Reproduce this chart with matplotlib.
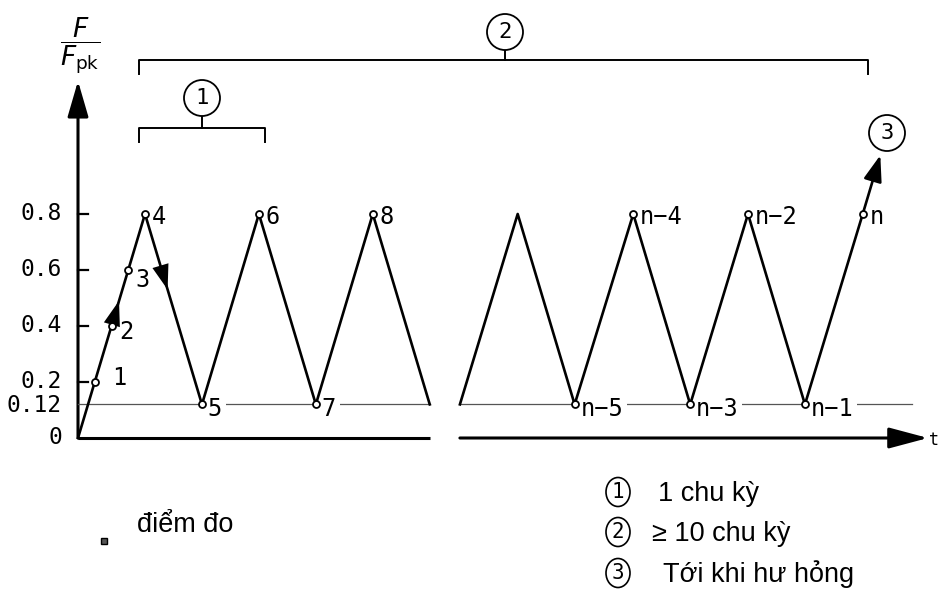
import matplotlib
matplotlib.use("Agg")
import matplotlib.pyplot as plt
from matplotlib.patches import FancyArrowPatch, Ellipse

# load ratio F/Fpk against time, first block of cycles
seg1_t = [0, 0.2, 0.4, 0.6, 0.8, 1.48, 2.16, 2.84, 3.52, 4.2]
seg1_f = [0, 0.2, 0.4, 0.6, 0.8, 0.12, 0.8, 0.12, 0.8, 0.12]
seg1_labels = ["", "1", "2", "3", "4", "5", "6", "7", "8", ""]

# last block of cycles up to failure
seg2_t = [4.56, 5.25, 5.93, 6.63, 7.31, 8.0, 8.68, 9.37]
seg2_f = [0.12, 0.8, 0.12, 0.8, 0.12, 0.8, 0.12, 0.8]
seg2_labels = ["", "", "n\u22125", "n\u22124", "n\u22123", "n\u22122", "n\u22121", "n"]
fail_t, fail_f = 9.58, 1.01

yticks = [0, 0.12, 0.2, 0.4, 0.6, 0.8]
ytick_labels = ["0", "0.12", "0.2", "0.4", "0.6", "0.8"]

legend_items = ["1 chu kỳ", "\u2265 10 chu kỳ", "Tới khi hư hỏng"]

# pixel -> data helpers (origin of the plot at px 78, 438)
X0, Y0, SX, SY = 78, 438, 83.75, 280.0


def P(x, y):
    return ((x - X0) / SX, (Y0 - y) / SY)


mono = "DejaVu Sans Mono"
sans = ["Liberation Sans", "DejaVu Sans"]

fig = plt.figure(figsize=(9.4, 5.97), dpi=100)
ax = fig.add_axes([0, 0, 1, 1])
ax.set_xlim(P(0, 0)[0], P(940, 0)[0])
ax.set_ylim(P(0, 597)[1], P(0, 0)[1])
ax.axis("off")

lw = 1.9

# axes with arrows and a break in t
ax.add_patch(FancyArrowPatch((0, 0), P(78, 81), arrowstyle="-|>,head_length=1.1,head_width=0.32",
                             mutation_scale=20, lw=2.2, color="black", shrinkA=0, shrinkB=0))
ax.plot([0, seg1_t[-1]], [0, 0], color="black", lw=2.2, solid_capstyle="butt")
ax.add_patch(FancyArrowPatch((seg2_t[0], 0), P(928, 438), arrowstyle="-|>,head_length=1.2,head_width=0.32",
                             mutation_scale=20, lw=2.2, color="black", shrinkA=0, shrinkB=0))
ax.text(*P(929, 440), "t", fontsize=12, family=mono, ha="left", va="center")

# lower limit line at 0.12
ax.plot([0, seg1_t[-1]], [0.12, 0.12], color="#555555", lw=0.9, zorder=1)
ax.plot([seg2_t[0], P(912, 0)[0]], [0.12, 0.12], color="#555555", lw=0.9, zorder=1)

# y ticks
for v, lab in zip(yticks, ytick_labels):
    if v not in (0, 0.12):
        ax.plot([0, P(88, 0)[0]], [v, v], color="black", lw=1.6)
    dy = {0.12: -0.005, 0.2: 0.0}.get(v, 0)
    ax.text(P(62, 0)[0], v + dy, lab, fontsize=16.5, family=mono, ha="right", va="center")

# axis title F/Fpk
ax.text(*P(80, 46), r"$\dfrac{F}{F_{\mathrm{pk}}}$", fontsize=19, ha="center", va="center")

# load curve
ax.plot(seg1_t, seg1_f, color="black", lw=lw, zorder=3)
ax.plot(seg2_t, seg2_f, color="black", lw=lw, zorder=3)
ax.add_patch(FancyArrowPatch((seg2_t[-1], seg2_f[-1]), (fail_t, fail_f),
                             arrowstyle="-|>,head_length=0.8,head_width=0.28", mutation_scale=20,
                             lw=lw, color="black", shrinkA=0, shrinkB=0, zorder=3))

# direction arrows along the first rise and fall
for (a, b) in [((0.40, 0.40), (0.49, 0.49)), ((0.99, 0.61), (1.07, 0.53))]:
    ax.add_patch(FancyArrowPatch(a, b, arrowstyle="-|>,head_length=0.9,head_width=0.3",
                                 mutation_scale=20, lw=0, color="black", shrinkA=0, shrinkB=0, zorder=4))

# measuring points
label_shift = {"1": (0.21, 0.015), "2": (0.09, -0.02), "3": (0.09, -0.035)}
for t_, f_, lab in list(zip(seg1_t, seg1_f, seg1_labels)) + list(zip(seg2_t, seg2_f, seg2_labels)):
    if not lab:
        continue
    ax.plot(t_, f_, "o", ms=5, mfc="white", mec="black", mew=1.3, zorder=5)
    if f_ >= 0.8:
        ax.text(t_ + 0.08, f_ - 0.01, lab, fontsize=17, family=mono, ha="left", va="center")
    elif f_ <= 0.12:
        ax.text(t_ + 0.07, f_ - 0.015, lab, fontsize=17, family=mono, ha="left", va="center",
                bbox=dict(boxstyle="square,pad=0.15", fc="white", ec="none"), zorder=2)
    else:
        dx, dy = label_shift[lab]
        ax.text(t_ + dx, f_ + dy, lab, fontsize=17, family=mono, ha="left", va="center")


def circled(xc, yc, num, w=36, h=36, lw_=1.3, fs=16):
    cx, cy = P(xc, yc)
    ax.add_patch(Ellipse((cx, cy), w / SX, h / SY, fc="white", ec="black", lw=lw_, zorder=6))
    ax.text(cx, cy, num, fontsize=fs, family=mono, ha="center", va="center", zorder=7)


def bracket(x1, x2, y, xm):
    pts = [P(x1, y + 14), P(x1, y), P(x2, y), P(x2, y + 14)]
    ax.plot([p[0] for p in pts], [p[1] for p in pts], color="black", lw=1.4)
    ax.plot([P(xm, 0)[0]] * 2, [P(0, y)[1], P(0, y - 12)[1]], color="black", lw=1.4)


bracket(139, 265, 128, 202)
circled(202, 98, "1")
bracket(139, 868, 60, 505)
circled(505, 32, "2")
circled(887, 133, "3")

# legend
ax.plot(*P(104, 541), "s", ms=4.5, mfc="#555555", mec="black", mew=1)
ax.text(*P(137, 532), "điểm đo", fontsize=19.5, family=sans, ha="left", va="baseline")
for i, txt in enumerate(legend_items):
    y = [492, 532, 573][i]
    circled(618, y, str(i + 1), w=24, h=29, lw_=1.2, fs=15)
    x = [658, 652, 663][i]
    ax.text(*P(x, y + 9), txt, fontsize=19.5, family=sans, ha="left", va="baseline")

fig.savefig("out.png", dpi=100, facecolor="white")
